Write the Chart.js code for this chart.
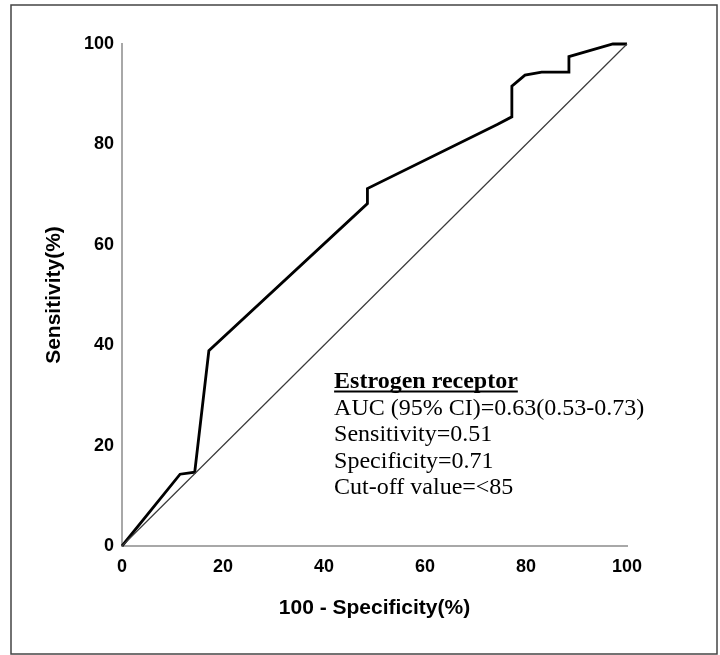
<!DOCTYPE html>
<html>
<head>
<meta charset="utf-8">
<script src="https://cdn.jsdelivr.net/npm/chart.js@4/dist/chart.umd.min.js"></script>
<style>
  html, body { margin: 0; padding: 0; background: #fff; }
  #wrap { width: 720px; height: 655px; position: relative; }
</style>
</head>
<body>
<div id="wrap"><canvas id="roc-chart" width="720" height="655"></canvas></div>
<script>
// ROC curve (both in %)
const fpr = [0, 11.5, 14.4, 17.2, 48.6, 48.6, 74.4, 77.2, 77.2, 79.8, 83.1, 88.5, 88.5, 97.2, 100];
const tpr = [0, 14.3, 14.7, 38.9, 68.2, 71.2, 84.0, 85.5, 91.6, 93.8, 94.4, 94.4, 97.5, 100, 100];
// reference line
const refX = [0, 100];
const refY = [0, 100];
const ticks = [0, 20, 40, 60, 80, 100];

const noteTitle = "Estrogen receptor";
const noteLines = [
    "AUC (95% CI)=0.63(0.53-0.73)",
    "Sensitivity=0.51",
    "Specificity=0.71",
    "Cut-off value=<85"
];

const toPoints = (xs, ys) => xs.map((x, i) => ({ x: x, y: ys[i] }));

// frame around the figure + the text block
const extras = {
    id: "extras",
    afterDraw(chart) {
        const ctx = chart.ctx;
        ctx.save();
        ctx.strokeStyle = "#444";
        ctx.lineWidth = 1.5;
        ctx.strokeRect(11, 5, 706, 649);

        const left = chart.scales.x.getPixelForValue(42);
        ctx.fillStyle = "#000";
        ctx.textBaseline = "alphabetic";
        ctx.textAlign = "left";
        ctx.font = "bold 24px 'Liberation Serif', 'Times New Roman', serif";
        ctx.fillText(noteTitle, left, 388);
        const w = ctx.measureText(noteTitle).width;
        ctx.fillRect(left, 390.5, w, 2);

        ctx.font = "24px 'Liberation Serif', 'Times New Roman', serif";
        noteLines.forEach((t, i) => {
            ctx.fillText(t, left, 414.5 + i * 26.5);
        });
        ctx.restore();
    }
};

const axisFont = { family: "'Liberation Sans', Arial, sans-serif", size: 18, weight: "bold" };
const titleFont = { family: "'Liberation Sans', Arial, sans-serif", size: 21, weight: "bold" };

new Chart(document.getElementById("roc-chart"), {
    type: "scatter",
    data: {
        datasets: [
            {
                data: toPoints(refX, refY),
                showLine: true,
                borderColor: "#3a3a3a",
                borderWidth: 1.2,
                pointRadius: 0,
                clip: false
            },
            {
                data: toPoints(fpr, tpr),
                showLine: true,
                borderColor: "#000",
                borderWidth: 2.8,
                pointRadius: 0,
                tension: 0,
                clip: false
            }
        ]
    },
    options: {
        responsive: false,
        animation: false,
        events: [],
        layout: { padding: { top: 44, right: 93, left: 0, bottom: 0 } },
        plugins: {
            legend: { display: false },
            tooltip: { enabled: false }
        },
        scales: {
            x: {
                type: "linear",
                min: 0,
                max: 100,
                afterBuildTicks: (s) => { s.ticks = ticks.map(v => ({ value: v })); },
                afterFit: (s) => { s.height = 109; },
                grid: { display: false, drawTicks: false },
                border: { display: true, color: "#a8a8a8", width: 2 },
                ticks: { color: "#000", font: axisFont, padding: 10, maxRotation: 0 },
                title: {
                    display: true,
                    text: "100 - Specificity(%)",
                    color: "#000",
                    font: titleFont,
                    padding: { top: 0, bottom: 34 }
                }
            },
            y: {
                type: "linear",
                min: 0,
                max: 100,
                afterBuildTicks: (s) => { s.ticks = ticks.map(v => ({ value: v })); },
                afterFit: (s) => { s.width = 122; },
                grid: { display: false, drawTicks: false },
                border: { display: true, color: "#a8a8a8", width: 2 },
                ticks: { color: "#000", font: axisFont, padding: 8 },
                title: {
                    display: true,
                    text: "Sensitivity(%)",
                    color: "#000",
                    font: titleFont,
                    padding: { top: 42, bottom: 0 }
                }
            }
        }
    },
    plugins: [extras]
});
</script>
</body>
</html>
